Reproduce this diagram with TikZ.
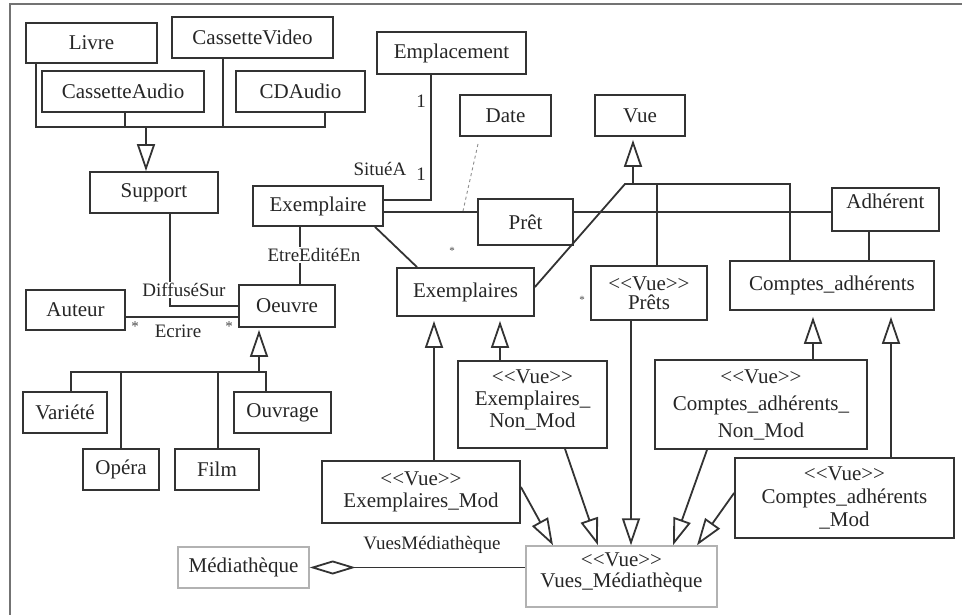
\documentclass[tikz,border=0pt]{standalone}
\usepackage{fontspec}
\setmainfont{Liberation Serif}
\usetikzlibrary{arrows.meta,calc}
\begin{document}
\begin{tikzpicture}[x=1pt,y=-1pt,
  box/.style={draw=black!80, line width=1.8pt, inner sep=0pt, align=center,
    font=\fontsize{21}{22}\selectfont, text=black!85},
  graybox/.style={box, draw=black!30, line width=1.4pt},
  txt/.style={inner sep=0pt, font=\fontsize{21}{22}\selectfont, text=black!85},
  lbl/.style={inner sep=1pt, font=\fontsize{19}{20}\selectfont, text=black!85},
  star/.style={inner sep=0pt, font=\fontsize{11}{11}\selectfont, text=black!70},
  ln/.style={draw=black!80, line width=1.8pt},
  gen/.style={ln, -{Triangle[open,length=27pt,width=18pt]}},
  frame/.style={draw=black!55, line width=2.2pt}]
\useasboundingbox (0,0) rectangle (962,615);
\draw[frame] (10,615) -- (10,4) -- (962,4);

% boxes
\node[box, minimum width=131pt, minimum height=40pt] (livre) at (91.5,43) {Livre};
\node[box, minimum width=161pt, minimum height=41pt] (cvideo) at (252.5,37.5) {CassetteVideo};
\node[box, minimum width=162pt, minimum height=41pt] (caudio) at (123,91.5) {CassetteAudio};
\node[box, minimum width=129pt, minimum height=41pt] (cdaudio) at (300.5,91.5) {CDAudio};
\node[box, minimum width=128pt, minimum height=41pt] (support) at (154,192.5) {Support};
\node[box, minimum width=149pt, minimum height=42pt] (emplacement) at (451.5,53) {Emplacement};
\node[box, minimum width=91pt, minimum height=41pt] (date) at (505.5,115.5) {Date};
\node[box, minimum width=90pt, minimum height=41pt] (vue) at (640,115.5) {Vue};
\node[box, minimum width=130pt, minimum height=40pt] (exemplaire) at (318,206) {Exemplaire};
\node[box, minimum width=95pt, minimum height=46pt] (pret) at (525.5,222) {Prêt};
\node[box, minimum width=107pt, minimum height=43pt] (adherent) at (885.5,209.5) {};
\node[txt] at (885.5,201) {Adhérent};
\node[box, minimum width=137pt, minimum height=48pt] (exemplaires) at (465.5,292) {Exemplaires};
\node[box, minimum width=116pt, minimum height=54pt] (prets) at (649,293) {<{}<Vue>{}>\\[-3pt]Prêts};
\node[box, minimum width=204pt, minimum height=49pt] (comptes) at (832,285.5) {Comptes\_adhérents};
\node[box, minimum width=99pt, minimum height=40pt] (auteur) at (75.5,310) {Auteur};
\node[box, minimum width=96pt, minimum height=42pt] (oeuvre) at (287,306) {Oeuvre};
\node[box, minimum width=84pt, minimum height=41pt] (variete) at (65,412.5) {Variété};
\node[box, minimum width=97pt, minimum height=41pt] (ouvrage) at (282.5,412.5) {Ouvrage};
\node[box, minimum width=76pt, minimum height=41pt] (opera) at (121,469.5) {Opéra};
\node[box, minimum width=84pt, minimum height=41pt] (film) at (217,469.5) {Film};
\node[box, minimum width=149pt, minimum height=87pt] (exnonmod) at (532.5,404.5) {};
\node[txt, align=center] at (532.5,399.5) {<{}<Vue>{}>\\Exemplaires\_\\Non\_Mod};
\node[box, minimum width=212pt, minimum height=89pt] (cnonmod) at (761,404.5) {<{}<Vue>{}>\\[5pt]Comptes\_adhérents\_\\[5pt]Non\_Mod};
\node[box, minimum width=198pt, minimum height=62pt] (exmod) at (421,492) {<{}<Vue>{}>\\Exemplaires\_Mod};
\node[box, minimum width=219pt, minimum height=80pt] (cmod) at (844.5,498) {<{}<Vue>{}>\\[1pt]Comptes\_adhérents\\[1pt]\_Mod};
\node[graybox, minimum width=131pt, minimum height=41pt] (mediatheque) at (243.5,567.5) {Médiathèque};
\node[graybox, minimum width=191pt, minimum height=61pt] (vm) at (621.5,576.5) {};
\node[txt, align=center] at (621.5,572.5) {<{}<Vue>{}>\\[-1pt]Vues\_Médiathèque};

% Support generalization
\coordinate (b1) at (36,127);
\coordinate (b2) at (325,127);
\coordinate (cv) at (223,127);
\coordinate (sb) at (146,127);
\draw[ln] (livre.south -| b1) -- (b1) -- (b2) -- (cdaudio.south -| b2);
\draw[ln] (caudio.south -| 125,0) -- (125,127);
\draw[ln] (cvideo.south -| cv) -- (cv);
\draw[gen] (sb) -- (support.north -| sb);

% Emplacement - Exemplaire
\coordinate (em) at (431,200);
\draw[ln] (emplacement.south -| em) -- (em) -- (exemplaire.east |- em);
\node[lbl] at (421,101) {1};
\node[lbl] at (421,174) {1};
\node[lbl] at (380,169) {SituéA};

% Exemplaire - Pret - Adherent
\coordinate (ep) at (0,212);
\draw[ln] (exemplaire.east |- ep) -- (pret.west |- ep);
\draw[ln] (pret.east |- ep) -- (adherent.west |- ep);
\coordinate (dd) at (478,144);
\coordinate (dt) at (463,211);
\draw[draw=black!45, line width=0.9pt, dashed] (dd) -- (dt);

% Vue generalization
\coordinate (vj) at (633,184);
\coordinate (vl) at (625,184);
\coordinate (vr) at (790,184);
\coordinate (pv) at (657,184);
\coordinate (xe) at (534,287);
\draw[gen, shorten >=3pt] (vj) -- (vue.south -| vj);
\draw[ln] (exemplaires.east |- xe) -- (vl) -- (vr) -- (comptes.north -| vr);
\draw[ln] (pv) -- (prets.north -| pv);
\coordinate (av) at (869,0);
\draw[ln] (adherent.south -| av) -- (comptes.north -| av);

% Exemplaire - Exemplaires
\coordinate (x1) at (375,0);
\coordinate (x2) at (417,0);
\draw[ln] (exemplaire.south -| x1) -- (exemplaires.north -| x2);
\node[star] at (452,251) {*};
\node[star] at (582,300) {*};

% Exemplaire - Oeuvre
\coordinate (eo) at (300,0);
\draw[ln] (exemplaire.south -| eo) -- (oeuvre.north -| eo);
\node[lbl, fill=white] at (314,255) {EtreEditéEn};

% Support - Oeuvre
\coordinate (so) at (170,306);
\draw[ln] (support.south -| so) -- (so) -- (oeuvre.west |- so);
\node[lbl, fill=white] at (184,290) {DiffuséSur};

% Auteur - Oeuvre
\coordinate (ao) at (0,317);
\draw[ln] (auteur.east |- ao) -- (oeuvre.west |- ao);
\node[lbl] at (178,331) {Ecrire};
\node[star, font=\fontsize{15}{15}\selectfont] at (135,327) {*};
\node[star, font=\fontsize{15}{15}\selectfont] at (229,327) {*};

% Oeuvre generalization
\coordinate (og) at (259,372);
\coordinate (ol) at (71,372);
\coordinate (or) at (266,372);
\draw[gen, shorten >=2pt] (og) -- (oeuvre.south -| og);
\draw[ln] (variete.north -| ol) -- (ol) -- (or) -- (ouvrage.north -| or);
\draw[ln] (opera.north) -- (opera.north |- ol);
\coordinate (fi) at (218,372);
\draw[ln] (film.north -| fi) -- (fi);

% Exemplaires generalizations
\coordinate (g1) at (434,0);
\coordinate (g2) at (500,0);
\draw[gen, shorten >=4pt] (exmod.north -| g1) -- (exemplaires.south -| g1);
\draw[gen, shorten >=4pt] (exnonmod.north -| g2) -- (exemplaires.south -| g2);

% Comptes generalizations
\coordinate (g3) at (813,0);
\coordinate (g4) at (891,0);
\draw[gen, shorten >=6pt] (cnonmod.north -| g3) -- (comptes.south -| g3);
\draw[gen, shorten >=6pt] (cmod.north -| g4) -- (comptes.south -| g4);

% to Vues_Mediatheque
\coordinate (s1) at (0,487);   \coordinate (t1) at (553,0);
\coordinate (s2) at (565,0);   \coordinate (t2) at (598,0);
\coordinate (s3) at (631,0);
\coordinate (s4) at (707,0);   \coordinate (t4) at (673,0);
\coordinate (s5) at (0,493);   \coordinate (t5) at (697,0);
\draw[gen] (exmod.east |- s1) -- (vm.north -| t1);
\draw[gen] (exnonmod.south -| s2) -- (vm.north -| t2);
\draw[gen] (prets.south -| s3) -- (vm.north -| s3);
\draw[gen] (cnonmod.south -| s4) -- (vm.north -| t4);
\draw[gen] (cmod.west |- s5) -- (vm.north -| t5);

% Mediatheque aggregation
\draw[ln, {Diamond[open,length=46pt,width=14pt]}-] (mediatheque.east) -- (vm.west |- mediatheque.east);
\node[lbl] at (432,545) {VuesMédiathèque};
\end{tikzpicture}
\end{document}
